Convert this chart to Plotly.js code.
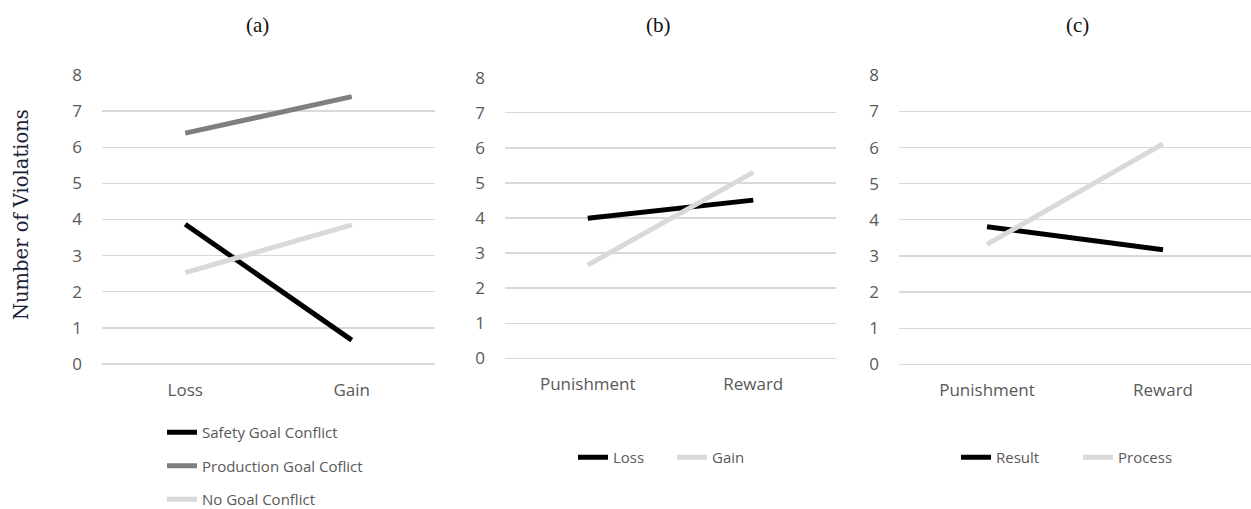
<!DOCTYPE html>
<html><head><meta charset="utf-8">
<script src="https://cdn.plot.ly/plotly-3.0.1.min.js"></script>
<style>html,body{margin:0;padding:0;background:#fff}</style>
</head><body>
<div id="chart" style="width:1251px;height:509px"></div>
<script>
// Panel (a)
const catsA = ["Loss", "Gain"];
const safetyA = [3.87, 0.66];
const productionA = [6.39, 7.40];
const noGoalA = [2.53, 3.85];
// Panel (b)
const catsB = ["Punishment", "Reward"];
const lossB = [3.99, 4.51];
const gainB = [2.66, 5.30];
// Panel (c)
const catsC = ["Punishment", "Reward"];
const resultC = [3.81, 3.17];
const processC = [3.32, 6.10];
const yTicks = [0,1,2,3,4,5,6,7,8];
const panelTitles = ["(a)", "(b)", "(c)"];

const BLACK = "#000000", MID = "#7f7f7f", LIGHT = "#d9d9d9";
const W = 1251, H = 509;
function ln(x, y, name, color, xa, ya, leg, grp) {
  return {x: x, y: y, name: name, type: "scatter", mode: "lines",
    line: {color: color, width: 5}, xaxis: xa, yaxis: ya, legend: leg,
    legendgroup: grp, hoverinfo: "skip"};
}
const data = [
  ln(catsA, safetyA, "Safety Goal Conflict", BLACK, "x", "y", "legend", "a1"),
  ln(catsA, productionA, "Production Goal Coflict", MID, "x", "y", "legend", "a2"),
  ln(catsA, noGoalA, "No Goal Conflict", LIGHT, "x", "y", "legend", "a3"),
  ln(catsB, lossB, "Loss", BLACK, "x2", "y2", "legend2", "b1"),
  ln(catsB, gainB, "Gain", LIGHT, "x2", "y2", "legend2", "b2"),
  ln(catsC, resultC, "Result", BLACK, "x3", "y3", "legend3", "c1"),
  ln(catsC, processC, "Process", LIGHT, "x3", "y3", "legend3", "c2")
];
const tickFont = {family: "'Open Sans', Lato, sans-serif", size: 17, color: "#595959"};
function xax(l, r, anchor) {
  return {domain: [l / W, r / W], type: "category", range: [-0.5, 1.5], anchor: anchor,
    showgrid: false, zeroline: false, showline: false, ticks: "", tickfont: tickFont,
    ticklabelstandoff: 14, fixedrange: true};
}
function yax(bot, top, anchor) {
  return {domain: [1 - bot / H, 1 - top / H], range: [0, 8], anchor: anchor,
    tickvals: yTicks, ticktext: yTicks.map(String),
    showgrid: true, gridcolor: "#d9d9d9", gridwidth: 1.3, zeroline: true,
    zerolinecolor: "#d9d9d9", zerolinewidth: 1.3, showline: false, ticks: "",
    tickfont: tickFont, ticklabelstandoff: 19, fixedrange: true};
}
const legFont = {family: "'Open Sans', Lato, sans-serif", size: 15, color: "#595959"};
const layout = {
  width: W, height: H, margin: {l: 0, r: 0, t: 0, b: 0, autoexpand: false},
  paper_bgcolor: "#fff", plot_bgcolor: "#fff",
  xaxis: xax(102, 435, "y"), yaxis: yax(364, 75, "x"),
  xaxis2: xax(505, 836, "y2"), yaxis2: yax(358.3, 77.7, "x2"),
  xaxis3: xax(899, 1251, "y3"), yaxis3: yax(364.3, 75.3, "x3"),
  legend: {x: 162 / W, y: 1 - 416 / H, xanchor: "left", yanchor: "top",
    orientation: "v", font: legFont, tracegroupgap: 11, bgcolor: "rgba(0,0,0,0)"},
  legend2: {x: 573 / W, y: 1 - 441 / H, xanchor: "left", yanchor: "top",
    orientation: "h", font: legFont, bgcolor: "rgba(0,0,0,0)",
    entrywidth: 54, entrywidthmode: "pixels"},
  legend3: {x: 956 / W, y: 1 - 441 / H, xanchor: "left", yanchor: "top",
    orientation: "h", font: legFont, bgcolor: "rgba(0,0,0,0)",
    entrywidth: 77, entrywidthmode: "pixels"},
  annotations: [
    {text: panelTitles[0], x: 257 / W, y: 1 - 25 / H},
    {text: panelTitles[1], x: 658 / W, y: 1 - 25 / H},
    {text: panelTitles[2], x: 1077 / W, y: 1 - 25 / H},
    {text: "Number of Violations", x: 22 / W, y: 1 - 215 / H, textangle: -90,
     font: {family: "'DejaVu Serif', 'Liberation Serif', serif", size: 19.5, color: "#1a2238"}}
  ].map(a => Object.assign({xref: "paper", yref: "paper", showarrow: false,
     xanchor: "center", yanchor: "middle",
     font: {family: "'Liberation Serif', 'DejaVu Serif', serif", size: 21, color: "#111"}}, a)),
  showlegend: true
};
Plotly.newPlot("chart", data, layout, {displayModeBar: false, staticPlot: true});
</script>
</body></html>
